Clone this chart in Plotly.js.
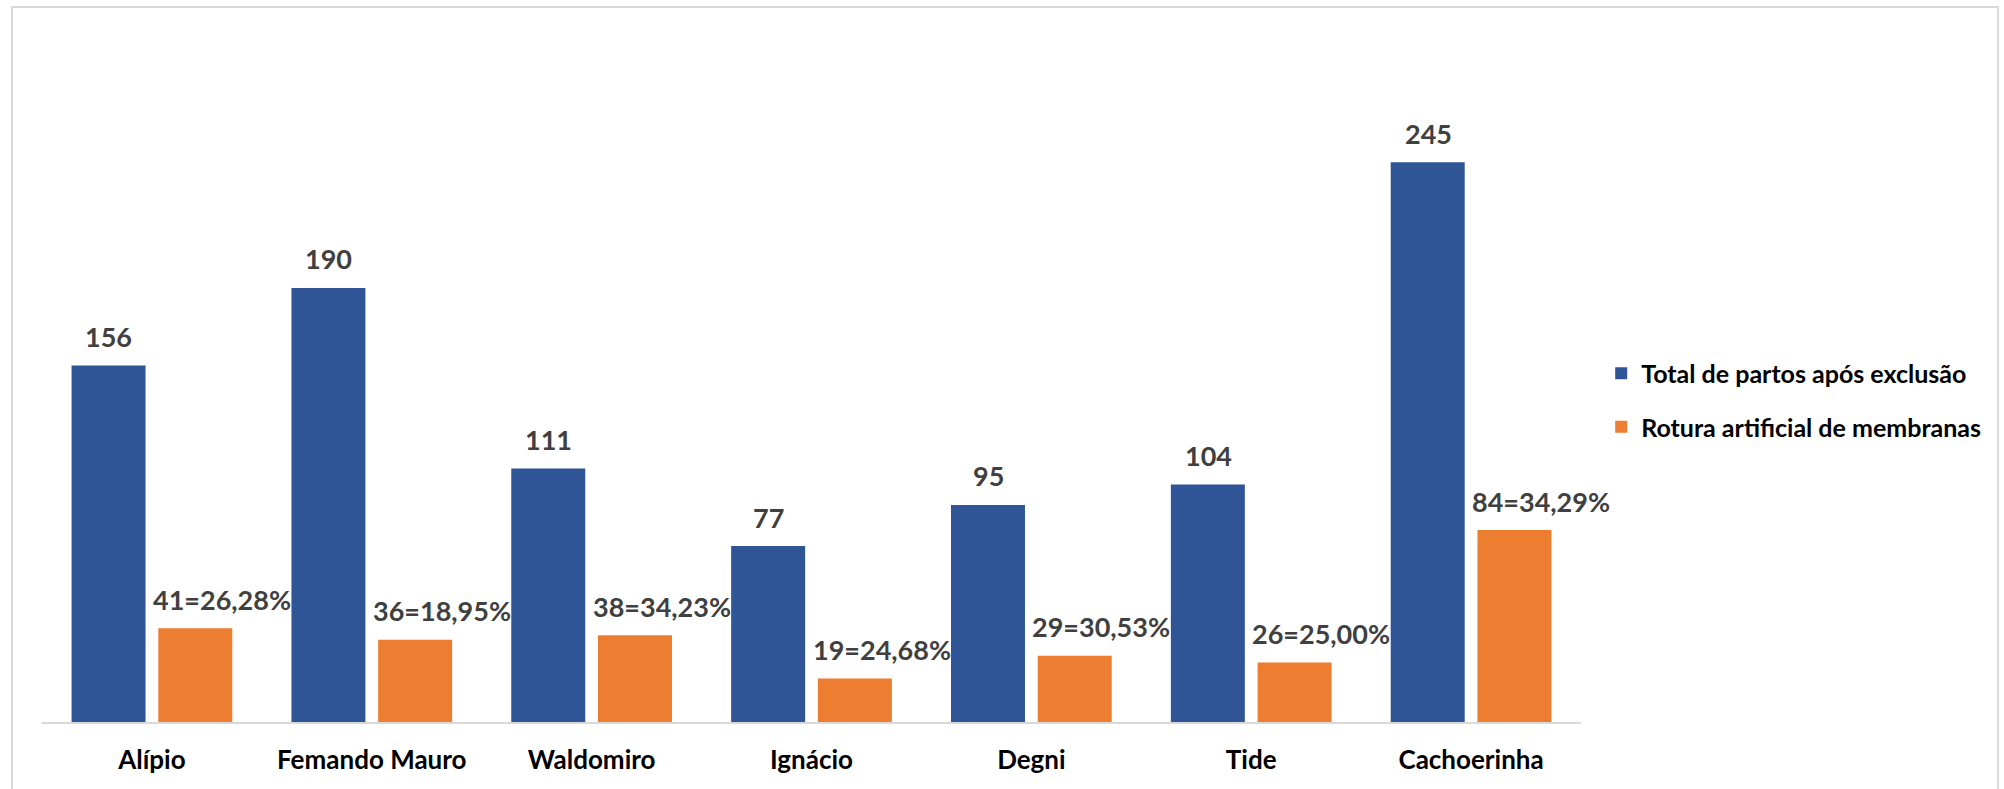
<!DOCTYPE html>
<html>
<head>
<meta charset="utf-8">
<script src="https://cdn.plot.ly/plotly-3.0.1.min.js"></script>
<style>
  html, body { margin: 0; padding: 0; background: #ffffff; }
  #chart { width: 2004px; height: 789px; }
</style>
</head>
<body>
<div id="chart"></div>
<script>
const categories = ["Alípio", "Fernando Mauro", "Waldomiro", "Ignácio", "Degni", "Tide", "Cachoerinha"];
const categoryLabels = ["Alípio", "Femando Mauro", "Waldomiro", "Ignácio", "Degni", "Tide", "Cachoerinha"];
const totalPartos = [156, 190, 111, 77, 95, 104, 245];
const roturaArtificial = [41, 36, 38, 19, 29, 26, 84];
const roturaPercent = ["26,28%", "18,95%", "34,23%", "24,68%", "30,53%", "25,00%", "34,29%"];
const seriesNames = ["Total de partos após exclusão", "Rotura artificial de membranas"];

const BLUE = "#2F5597";
const ORANGE = "#ED7D31";
const FONT = "Lato, 'Open Sans', sans-serif";

const traces = [
  {
    type: "bar",
    name: seriesNames[0],
    x: categories,
    y: totalPartos,
    marker: { color: BLUE },
    legendgroup: "a",
    hoverinfo: "x+y"
  },
  {
    type: "bar",
    name: seriesNames[1],
    x: categories,
    y: roturaArtificial,
    marker: { color: ORANGE },
    legendgroup: "b",
    hoverinfo: "x+y"
  }
];

const annotations = [];
categories.forEach((c, i) => {
  annotations.push({
    x: c, y: totalPartos[i], xref: "x", yref: "y",
    text: String(totalPartos[i]),
    showarrow: false, xanchor: "center", yanchor: "middle",
    xshift: -43, yshift: 29,
    font: { family: FONT, size: 27, color: "#404040", weight: 700 }
  });
  annotations.push({
    x: c, y: roturaArtificial[i], xref: "x", yref: "y",
    text: roturaArtificial[i] + "=" + roturaPercent[i],
    showarrow: false, xanchor: "center", yanchor: "middle",
    xshift: 70, yshift: 29,
    font: { family: FONT, size: 27, color: "#404040", weight: 700 }
  });
});

const layout = {
  width: 2004,
  height: 789,
  margin: { l: 42, r: 423, t: 128, b: 67, pad: 0 },
  paper_bgcolor: "#ffffff",
  plot_bgcolor: "#ffffff",
  barmode: "group",
  bargap: 0.211,
  bargroupgap: 0.147,
  font: { family: FONT, color: "#000000" },
  showlegend: true,
  legend: {
    xref: "container", yref: "container",
    x: 0.799, xanchor: "left",
    y: 0.493, yanchor: "middle",
    font: { family: FONT, size: 25, color: "#000000", weight: 700 },
    tracegroupgap: 18,
    bgcolor: "rgba(0,0,0,0)"
  },
  xaxis: {
    type: "category",
    range: [-0.5, 6.5],
    tickmode: "array",
    tickvals: categories,
    ticktext: categoryLabels,
    showline: true,
    linecolor: "#D9D9D9",
    linewidth: 2,
    showgrid: false,
    zeroline: false,
    ticks: "outside",
    ticklen: 14,
    tickcolor: "rgba(0,0,0,0)",
    tickfont: { family: FONT, size: 26, color: "#000000", weight: 700 },
    automargin: false,
    fixedrange: true
  },
  yaxis: {
    range: [0, 260],
    visible: false,
    showgrid: false,
    zeroline: false,
    fixedrange: true
  },
  annotations: annotations,
  shapes: [
    {
      type: "rect", xref: "paper", yref: "paper",
      x0: -0.0195, x1: 1.271, y0: -0.2, y1: 1.2037,
      line: { color: "#D9D9D9", width: 2 },
      fillcolor: "rgba(0,0,0,0)",
      layer: "below"
    }
  ]
};

Plotly.newPlot("chart", traces, layout, { displayModeBar: false, staticPlot: true });
</script>
</body>
</html>
